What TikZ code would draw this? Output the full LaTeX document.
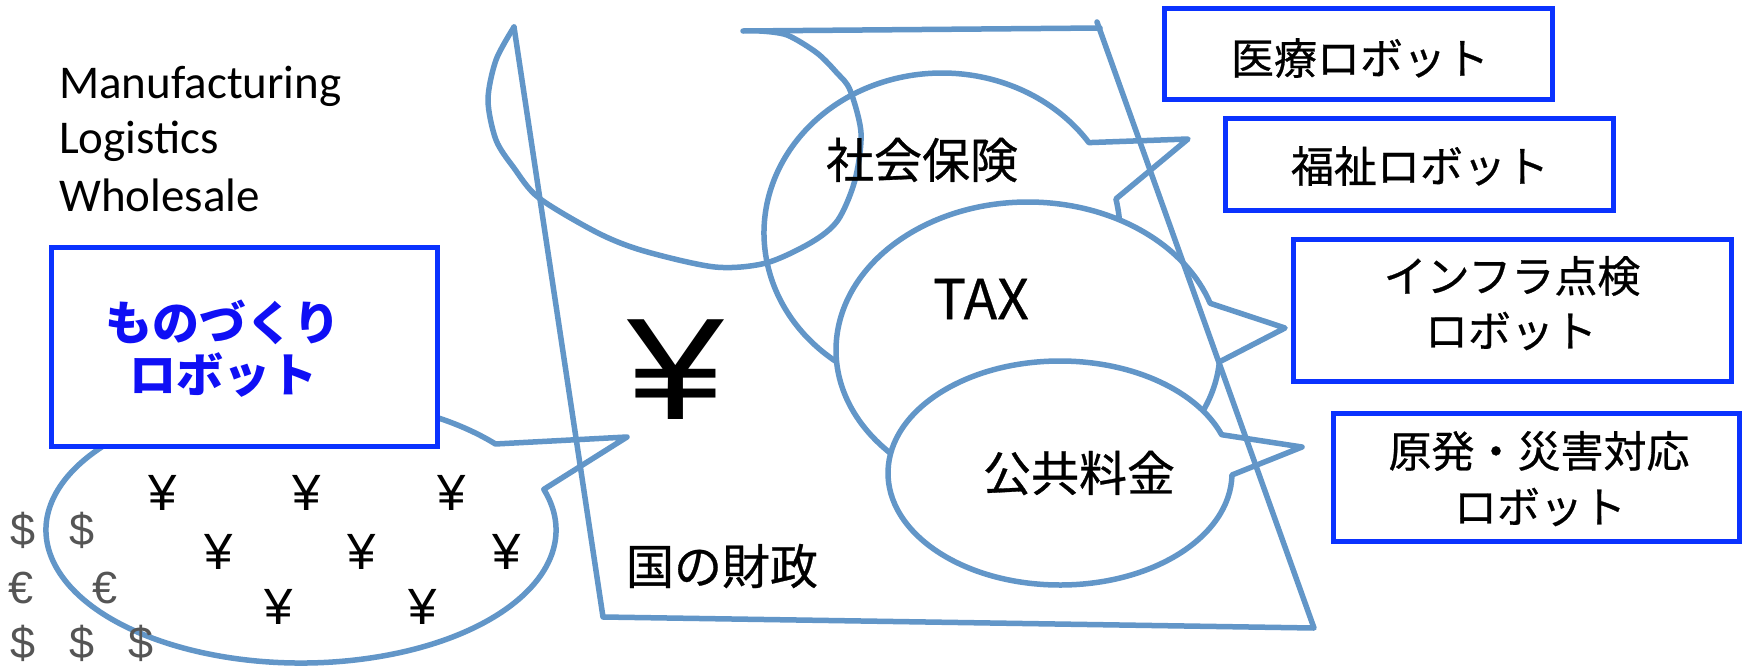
\documentclass[tikz,border=0pt]{standalone}
\usepackage{fontspec}
\setmainfont{Liberation Sans}
\newfontfamily\jpfont{Noto Sans CJK JP}[FakeBold=0.6]
\newfontfamily\jpbold{Noto Sans CJK JP}
\newfontfamily\carlfont{Carlito}
\newcommand\setfs[2]{\fontsize{#1}{#2}\selectfont}
\definecolor{callout}{RGB}{98,150,200}
\definecolor{boxblue}{RGB}{10,50,255}
\definecolor{txtblue}{RGB}{15,15,245}
\definecolor{curgrey}{RGB}{85,85,85}
\begin{document}
\begin{tikzpicture}[x=1pt,y=-1pt,
  bubble/.style={draw=callout,line width=5.5pt,fill=white,line join=round},
  sheetline/.style={draw=callout,line width=5.5pt,line cap=round,line join=round},
  robobox/.style={draw=boxblue,line width=5pt,fill=white},
  latin/.style={font=\carlfont\setfs{47}{56},inner sep=0pt,anchor=base west},
  jbox/.style={font=\jpfont\setfs{43}{56},inner sep=0pt},
  jbig/.style={font=\jpfont\setfs{48}{56},inner sep=0pt},
  jblue/.style={font=\jpbold\bfseries\setfs{47}{56},text=txtblue,inner sep=0pt},
  yen/.style={font=\setfs{51}{56},inner sep=0pt},
  cur/.style={font=\setfs{45}{50},text=curgrey,inner sep=0pt}]
\useasboundingbox (0,0) rectangle (1742,667);
\fill[white] (0,0) rectangle (1742,667);

% sector labels
\node[latin] (sec1) at (59,98) {Manufacturing};
\node[latin] (sec2) at (59,153) {Logistics};
\node[latin] (sec3) at (59,211) {Wholesale};

% bottom-left callout with yen signs
\draw[bubble] (301,530) ++(-17.8:255 and 133)
  arc[start angle=-17.8,end angle=319.7,x radius=255,y radius=133]
  -- (627,437) -- cycle;
\draw[robobox] (51,247) rectangle (437,446);
\node[jblue] (mono1) at (223,322) {ものづくり};
\node[jblue] (mono2) at (223,375) {ロボット};

\foreach \x/\y [count=\i] in {163/493,307/493,452/493,219/552,362/552,507/552,279/607,423/607}
  \node[yen] (y\i) at (\x,\y) {¥};

\node[cur] (d1) at (23,530) {\$};
\node[cur] (d2) at (82,530) {\$};
\node[cur] (e1) at (21,588) {€};
\node[cur] (e2) at (105,588) {€};
\node[cur] (d3) at (23,643) {\$};
\node[cur] (d4) at (82,643) {\$};
\node[cur] (d5) at (141,643) {\$};

% callouts inside the sheet
\draw[bubble] (942,233) ++(-12.3:178 and 160)
  arc[start angle=-12.3,end angle=325.6,x radius=178,y radius=160]
  -- (1188,139) -- cycle;
\draw[bubble] (1028,350) ++(4.6:192 and 148)
  arc[start angle=4.6,end angle=341.6,x radius=192,y radius=148]
  -- (1285,328) -- cycle;
\draw[bubble] (1060,473) ++(1:172 and 112)
  arc[start angle=1,end angle=340,x radius=172,y radius=112]
  -- (1302,447) -- cycle;

% the sheet with curled corner
\draw[sheetline] (743,31) -- (1100,28);
\draw[sheetline] (1097,22) -- (1314,628) -- (603,617) -- (514,27);
\draw[sheetline] plot[smooth] coordinates {(514,27) (496,60) (488,100) (496,140) (514,168) (539,198) (598,233) (644,251) (715,267) (766,263) (812,242) (838,220) (855,180) (861,133) (850,90) (837,73) (817,53) (787,35) (760,31)};

\node[jbig] (shakai) at (922,160) {社会保険};
\node[font=\jpfont\setfs{55}{60},inner sep=0pt] (tax) at (981,299) {TAX};
\node[jbig] (koukyou) at (1079,473) {公共料金};
\node[jbig] (zaisei) at (722,566) {国の財政};
\node[font=\setfs{145}{150},inner sep=0pt] (bigyen) at (676,370) {\scalebox{1.2}[1]{¥}};

% robot boxes
\draw[robobox] (1164,8) rectangle (1552,99);
\node[jbox] (iryo) at (1360,58) {医療ロボット};
\draw[robobox] (1225,118) rectangle (1613,210);
\node[jbox] (fukushi) at (1420,166) {福祉ロボット};
\draw[robobox] (1293,239) rectangle (1731,381);
\node[jbox] (infra1) at (1512,276) {インフラ点検};
\node[jbox] (infra2) at (1511,331) {ロボット};
\draw[robobox] (1333,413) rectangle (1739,541);
\node[jbox] (gen1) at (1539,451) {原発・災害対応};
\node[jbox] (gen2) at (1540,507) {ロボット};
\end{tikzpicture}
\end{document}
